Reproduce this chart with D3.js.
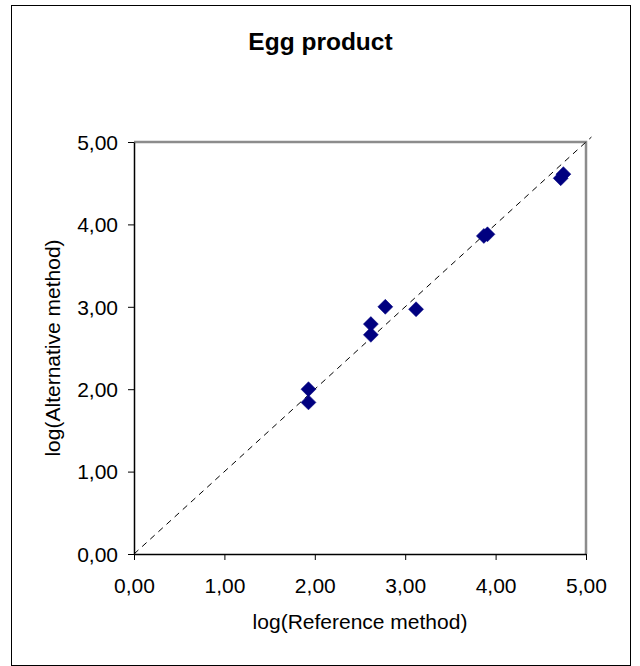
<!DOCTYPE html>
<html>
<head>
<meta charset="utf-8">
<script src="https://cdn.jsdelivr.net/npm/d3@7"></script>
<style>
  html, body { margin: 0; padding: 0; background: #fff; }
  svg { display: block; }
  text { font-family: Arial, "Liberation Sans", sans-serif; fill: #000; }
</style>
</head>
<body>
<svg id="chart" width="640" height="666"></svg>
<script>
// ---- data ----
const refValues = [1.93, 1.93, 2.62, 2.62, 2.78, 3.12, 3.87, 3.91, 4.72, 4.75];
const altValues = [2.00, 1.84, 2.79, 2.66, 3.00, 2.97, 3.86, 3.88, 4.56, 4.61];
const lineStart = [0, 0];
const lineEnd = [5.06, 5.06];
const xTicks = [0, 1, 2, 3, 4, 5];
const yTicks = [0, 1, 2, 3, 4, 5];
const title = "Egg product";
const xTitle = "log(Reference method)";
const yTitle = "log(Alternative method)";

// ---- layout ----
const svg = d3.select("#chart");
const plot = { left: 134, right: 586, top: 142, bottom: 554 };

const x = d3.scaleLinear().domain([0, 5]).range([plot.left, plot.right]);
const y = d3.scaleLinear().domain([0, 5]).range([plot.bottom, plot.top]);
const fmt = d => d3.format(".2f")(d).replace(".", ",");

// outer chart border
svg.append("rect")
  .attr("x", 11.5).attr("y", 5.5)
  .attr("width", 619).attr("height", 660)
  .attr("fill", "#fff").attr("stroke", "#000").attr("stroke-width", 1);

// title
svg.append("text")
  .attr("x", 320.5).attr("y", 50)
  .attr("text-anchor", "middle")
  .attr("font-size", 24.5).attr("font-weight", "bold")
  .text(title);

// plot area border (top & right gray)
svg.append("path")
  .attr("d", `M${plot.left},${plot.top}H${plot.right}V${plot.bottom}`)
  .attr("fill", "none").attr("stroke", "#8c8c8c").attr("stroke-width", 2.5);

// axes
const xAxis = d3.axisBottom(x).tickValues(xTicks).tickFormat(fmt).tickSizeInner(6).tickSizeOuter(0).tickPadding(18);
const yAxis = d3.axisLeft(y).tickValues(yTicks).tickFormat(fmt).tickSizeInner(6).tickSizeOuter(0).tickPadding(10);

const gx = svg.append("g").attr("transform", `translate(0,${plot.bottom})`).call(xAxis);
const gy = svg.append("g").attr("transform", `translate(${plot.left},0)`).call(yAxis);
[gx, gy].forEach(g => {
  g.select(".domain").attr("stroke", "#000").attr("stroke-width", 1.5);
  g.selectAll(".tick line").attr("stroke", "#000").attr("stroke-width", 1);
  g.selectAll(".tick text")
    .attr("font-family", "Arial, 'Liberation Sans', sans-serif")
    .attr("font-size", 21).attr("fill", "#000");
});
gx.selectAll(".tick text").attr("dy", "0.71em");
gy.selectAll(".tick text").attr("dy", "0.35em");

// axis titles
svg.append("text")
  .attr("x", (plot.left + plot.right) / 2).attr("y", 629)
  .attr("text-anchor", "middle").attr("font-size", 21)
  .text(xTitle);
svg.append("text")
  .attr("transform", `translate(60,${(plot.top + plot.bottom) / 2}) rotate(-90)`)
  .attr("text-anchor", "middle").attr("font-size", 21)
  .text(yTitle);

// reference line y = x (dashed)
svg.append("line")
  .attr("x1", x(lineStart[0])).attr("y1", y(lineStart[1]))
  .attr("x2", x(lineEnd[0])).attr("y2", y(lineEnd[1]))
  .attr("stroke", "#000").attr("stroke-width", 1)
  .attr("stroke-dasharray", "6,5");

// points (diamonds)
const pts = refValues.map((v, i) => ({ x: v, y: altValues[i] }));
const sym = d3.symbol().type(d3.symbolSquare).size(112);
svg.append("g").selectAll("path")
  .data(pts).join("path")
  .attr("d", sym)
  .attr("transform", d => `translate(${x(d.x)},${y(d.y)}) rotate(45)`)
  .attr("fill", "#000080").attr("stroke", "#000080").attr("stroke-width", 0.5);
</script>
</body>
</html>
